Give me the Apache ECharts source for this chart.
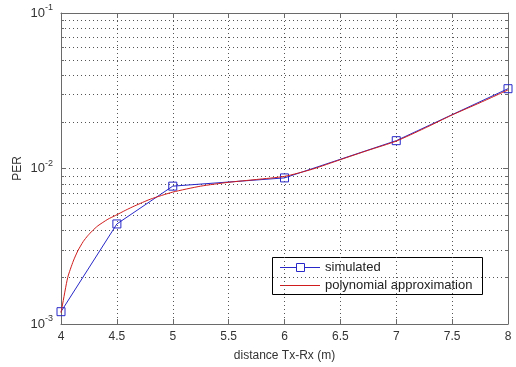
<!DOCTYPE html>
<html><head><meta charset="utf-8">
<script src="https://cdn.jsdelivr.net/npm/echarts@6/dist/echarts.min.js"></script>
<style>html,body{margin:0;padding:0;background:#fff}#c{width:516px;height:367px}</style>
</head><body><div id="c"></div>
<script>
// Data
var distances = [4, 4.5, 5, 6, 7, 8];
var simulatedPER = [0.0012, 0.0044, 0.0077, 0.0087, 0.0151, 0.0326];
var polyX = [4, 4.01, 4.06, 4.11, 4.15, 4.2, 4.24, 4.28, 4.33, 4.42, 4.49, 4.58, 4.66, 4.8, 5, 5.25, 5.5, 5.75, 6, 6.25, 6.5, 6.75, 7, 7.25, 7.5, 7.75, 8];
var polyPER = [0.00118, 0.00129, 0.00199, 0.00254, 0.00295, 0.0034, 0.0037, 0.00397, 0.00428, 0.00472, 0.0050, 0.0054, 0.00575, 0.00635, 0.00705, 0.0077, 0.00815, 0.0085, 0.0089, 0.0099, 0.0114, 0.0131, 0.0150, 0.0181, 0.0221, 0.0265, 0.0320];
var xTicks = [4, 4.5, 5, 5.5, 6, 6.5, 7, 7.5, 8];
var minorY = [0.002,0.003,0.004,0.005,0.006,0.007,0.008,0.009,0.02,0.03,0.04,0.05,0.06,0.07,0.08,0.09];
var legendNames = ['simulated', 'polynomial approximation'];

var chart = echarts.init(document.getElementById('c'));
var font = 'Liberation Sans, Arial, sans-serif';
var axisCol = '#6a6a6a';
var blue = '#2828c8';
var red = '#d01c1c';
var gridLine = {show: true, lineStyle: {color: '#555', type: [1, 3], width: 1}};

function pair(xs, ys){ return xs.map(function(x,i){return [x, ys[i]];}); }

var option = {
  backgroundColor: '#fff',
  animation: false,
  textStyle: {fontFamily: font},
  grid: {left: 61, top: 13, width: 447, height: 316, containLabel: false},
  xAxis: [{
    type: 'value', min: 4, max: 8, interval: 0.5,
    name: 'distance Tx-Rx (m)', nameLocation: 'middle', nameGap: 26,
    nameTextStyle: {color: '#333', fontSize: 12, fontFamily: font},
    axisLine: {lineStyle: {color: axisCol}},
    axisTick: {inside: true, length: 5, lineStyle: {color: axisCol}},
    axisLabel: {color: '#333', fontSize: 12, margin: 7, fontFamily: font,
      formatter: function(v){ return String(v); }},
    splitLine: gridLine
  }, {
    type: 'value', min: 4, max: 8, interval: 0.5, position: 'top',
    axisLine: {show: true, lineStyle: {color: axisCol}},
    axisTick: {show: true, inside: true, length: 5, lineStyle: {color: axisCol}},
    axisLabel: {show: false}, splitLine: {show: false}
  }],
  yAxis: [{
    type: 'log', logBase: 10, min: 0.001, max: 0.1,
    name: 'PER', nameLocation: 'middle', nameGap: 37, nameRotate: 90, nameMoveOverlap: false,
    nameTextStyle: {color: '#333', fontSize: 12, fontFamily: font},
    axisLine: {show: true, lineStyle: {color: axisCol}},
    axisTick: {show: true, inside: true, length: 5, lineStyle: {color: axisCol}},
    axisLabel: {color: '#333', fontSize: 13, margin: 8, fontFamily: font,
      formatter: function(v){ return '10{sup|' + Math.round(Math.log10(v)) + '}'; },
      rich: {sup: {fontSize: 9, verticalAlign: 'top', padding: [0,0,10,0], color: '#333', fontFamily: font}}},
    splitLine: gridLine
  }, {
    type: 'log', logBase: 10, min: 0.001, max: 0.1, position: 'right',
    axisLine: {show: true, lineStyle: {color: axisCol}},
    axisTick: {show: true, inside: true, length: 5, lineStyle: {color: axisCol}},
    axisLabel: {show: false}, splitLine: {show: false}
  }],
  graphic: [{
    type: 'group', left: 272, top: 257, z: 100,
    children: [
      {type: 'rect', shape: {x: 0.5, y: 0.5, width: 210, height: 37}, style: {fill: '#fff', stroke: '#000', lineWidth: 1}},
      {type: 'line', shape: {x1: 8, y1: 10.5, x2: 48, y2: 10.5}, style: {stroke: blue, lineWidth: 1}},
      {type: 'rect', shape: {x: 24.5, y: 6.5, width: 8, height: 8}, style: {fill: '#fff', stroke: blue, lineWidth: 1}},
      {type: 'text', x: 53, y: 10.5, style: {text: legendNames[0], font: '13px ' + font, fill: '#222', verticalAlign: 'middle'}},
      {type: 'line', shape: {x1: 8, y1: 28.5, x2: 48, y2: 28.5}, style: {stroke: red, lineWidth: 1}},
      {type: 'text', x: 53, y: 28.5, style: {text: legendNames[1], font: '13px ' + font, fill: '#222', verticalAlign: 'middle'}}
    ]
  }],
  series: [{
    type: 'custom', name: 'minorgrid', silent: true, z: 1,
    data: minorY.map(function(v){ return [4, v]; }),
    encode: {x: 0, y: 1},
    renderItem: function(params, api){
      var v = api.value(1);
      var a = api.coord([4, v]), b = api.coord([8, v]);
      var y = Math.round(a[1]) + 0.5;
      return {type: 'group', children: [
        {type: 'line', shape: {x1: a[0], y1: y, x2: b[0], y2: y}, style: {stroke: '#555', lineWidth: 1, lineDash: [1, 3]}},
        {type: 'line', shape: {x1: a[0], y1: y, x2: a[0] + 3, y2: y}, style: {stroke: axisCol, lineWidth: 1}},
        {type: 'line', shape: {x1: b[0] - 3, y1: y, x2: b[0], y2: y}, style: {stroke: axisCol, lineWidth: 1}}
      ]};
    }
  }, {
    type: 'line', name: legendNames[0], data: pair(distances, simulatedPER),
    symbol: 'rect', symbolSize: 8, showAllSymbol: true, z: 3,
    itemStyle: {color: 'rgba(0,0,0,0)', borderColor: blue, borderWidth: 1},
    lineStyle: {color: blue, width: 1},
    color: blue
  }, {
    type: 'line', name: legendNames[1], data: pair(polyX, polyPER),
    symbol: 'none', smooth: 0.2, z: 4,
    lineStyle: {color: red, width: 1},
    itemStyle: {color: red},
    color: red
  }]
};
chart.setOption(option);
</script>
</body></html>
